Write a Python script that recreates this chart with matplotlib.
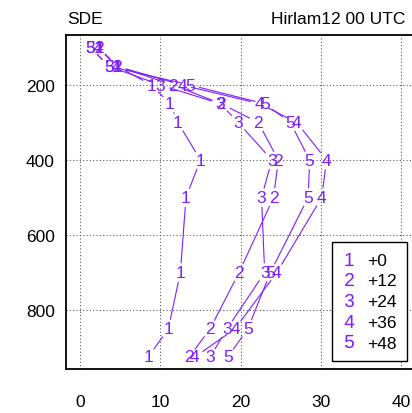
import matplotlib
matplotlib.use("Agg")
import matplotlib.pyplot as plt
from matplotlib.lines import Line2D

plt.rcParams['font.family'] = ['Liberation Sans', 'DejaVu Sans']

levels = [100, 150, 200, 250, 300, 400, 500, 700, 850, 925]
s1 = [2.3, 4.6, 8.9, 11.2, 12.2, 15.0, 13.2, 12.5, 11.0, 8.5]
s2 = [2.3, 4.6, 11.6, 17.6, 22.2, 24.7, 24.1, 19.8, 16.2, 13.6]
s3 = [1.3, 3.6, 10.0, 17.5, 19.7, 23.9, 22.6, 23.0, 18.3, 16.2]
s4 = [2.3, 4.6, 12.7, 22.4, 27.0, 30.7, 30.1, 24.5, 19.3, 14.3]
s5 = [1.3, 3.6, 13.7, 23.0, 26.2, 28.6, 28.4, 23.7, 20.9, 18.4]
series = [s1, s2, s3, s4, s5]
symbols = ['1', '2', '3', '4', '5']
labels = ['+0', '+12', '+24', '+36', '+48']
xticks = [0, 10, 20, 30, 40]
yticks = [200, 400, 600, 800]

color = '#7f1fff'
fs = 12.5

fig = plt.figure(figsize=(4.12, 4.14), dpi=100)
ax = fig.add_axes([66 / 412, 44 / 414, 350 / 412, 334 / 414])
ax.set_xlim(-1.74, 41.84)
ax.set_ylim(957, 66.7)

ax.set_xticks(xticks)
ax.set_yticks(yticks)
ax.tick_params(axis='both', length=0, labelsize=fs)
ax.tick_params(axis='x', pad=18)
ax.tick_params(axis='y', pad=8)
ax.grid(True, color='0.35', linestyle=(0, (1, 2)), linewidth=0.8)
for sp in ax.spines.values():
    sp.set_linewidth(1.3)
    sp.set_color('black')

for vals, sym in zip(series, symbols):
    for i in range(len(levels) - 1):
        ax.annotate('', xy=(vals[i + 1], levels[i + 1]), xytext=(vals[i], levels[i]),
                    xycoords='data', textcoords='data',
                    arrowprops=dict(arrowstyle='-', color=color, lw=0.8,
                                    shrinkA=7, shrinkB=7))
    for x, y in zip(vals, levels):
        ax.text(x, y, sym, color=color, fontsize=fs, ha='center', va='center')

handles = [Line2D([], [], linestyle='none', marker=f'$\\mathregular{{{s}}}$',
                  color=color, markersize=9.5, markeredgewidth=0) for s in symbols]
leg = ax.legend(handles, labels, loc='lower right', bbox_to_anchor=(0.974, 0.024),
                fontsize=fs, frameon=True, fancybox=False, framealpha=1,
                edgecolor='black', handlelength=0.8, handletextpad=0.6,
                labelspacing=0.32, borderpad=0.6, borderaxespad=0)
leg.get_frame().set_linewidth(1.0)

fig.text(67 / 412, 1 - 20 / 414, 'SDE', fontsize=fs, ha='left', va='center')
fig.text(405 / 412, 1 - 20 / 414, 'Hirlam12 00 UTC', fontsize=fs, ha='right', va='center')

fig.savefig('out.png', dpi=100)
